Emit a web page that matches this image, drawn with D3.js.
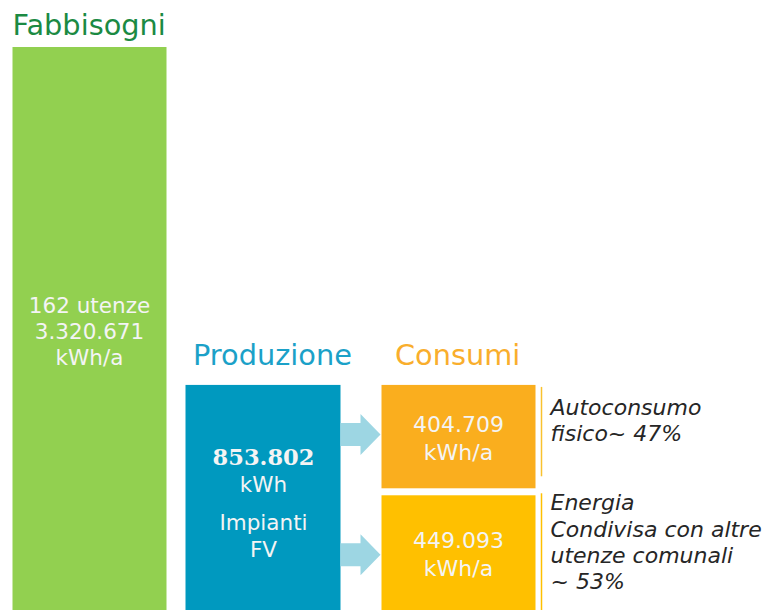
<!DOCTYPE html>
<html>
<head>
<meta charset="utf-8">
<script src="https://cdn.jsdelivr.net/npm/d3@7"></script>
<style>
  body { margin: 0; background: #fff; }
  svg { display: block; }
</style>
</head>
<body>
<div id="root"></div>
<script>
// chart values
var columns = ["Fabbisogni", "Produzione", "Consumi"];
var fabbisogni = 3320671;
var produzione = 853802;
var consumiValues = [404709, 449093];
var fabbisogniLines = ["162 utenze", "3.320.671", "kWh/a"];
var produzioneLines = ["853.802", "kWh", "Impianti", "FV"];
var consumiLabels = ["404.709", "449.093"];
var consumiNotes = [
  ["Autoconsumo", "fisico~ 47%"],
  ["Energia", "Condivisa con altre", "utenze comunali", "~ 53%"]
];

function plotChart() {
    var width = 765;
    var height = 610;
    var base = 610;
    var barW = 154;
    var gap = 7;

    var svg = d3.select("#root")
        .append("svg")
        .attr("width", width)
        .attr("height", height);

    // column positions (left edges)
    var x = d3.scaleOrdinal().domain(columns).range([12.5, 185.5, 381.5]);
    var titleColor = d3.scaleOrdinal().domain(columns).range(["#1b8a43", "#1ba1c8", "#f9ae2c"]);
    var titleOffset = d3.scaleOrdinal().domain(columns).range([0, 7.5, 13.5]);

    // bar height: infographic style, power scale
    var y = d3.scalePow().exponent(0.675).domain([0, fabbisogni]).range([base, 47]);

    // column titles
    svg.selectAll(".title")
        .data(columns)
        .enter().append("text")
        .attr("class", "title")
        .attr("x", function (d) { return x(d) + titleOffset(d); })
        .attr("y", function (d) { return d === "Fabbisogni" ? 35 : 365; })
        .attr("font-family", "DejaVu Sans, Verdana, sans-serif")
        .attr("font-size", "28.8px")
        .attr("fill", function (d) { return titleColor(d); })
        .text(function (d) { return d; });

    // Fabbisogni bar
    svg.append("rect")
        .attr("x", x("Fabbisogni"))
        .attr("y", y(fabbisogni))
        .attr("width", barW)
        .attr("height", base - y(fabbisogni))
        .attr("fill", "#92d050");

    svg.selectAll(".fabLabel")
        .data(fabbisogniLines)
        .enter().append("text")
        .attr("class", "fabLabel")
        .attr("x", x("Fabbisogni") + barW / 2)
        .attr("y", function (d, i) { return 313 + i * 26; })
        .attr("text-anchor", "middle")
        .attr("font-family", "DejaVu Sans, Verdana, sans-serif")
        .attr("font-size", "21.5px")
        .attr("fill", "#f4f4f4")
        .text(function (d) { return d; });

    // Produzione bar
    var prodTop = y(produzione);
    svg.append("rect")
        .attr("x", x("Produzione"))
        .attr("y", prodTop)
        .attr("width", barW + 1)
        .attr("height", base - prodTop)
        .attr("fill", "#0099bf");

    var prodY = [465, 492, 530, 557];
    svg.selectAll(".prodLabel")
        .data(produzioneLines)
        .enter().append("text")
        .attr("class", "prodLabel")
        .attr("x", x("Produzione") + barW / 2 + 1)
        .attr("y", function (d, i) { return prodY[i]; })
        .attr("text-anchor", "middle")
        .attr("font-family", function (d, i) { return i === 0 ? "DejaVu Serif, serif" : "DejaVu Sans, Verdana, sans-serif"; })
        .attr("font-weight", function (d, i) { return i === 0 ? "bold" : "normal"; })
        .attr("font-size", function (d, i) { return i === 0 ? "22.5px" : "21.5px"; })
        .attr("fill", "#f4f4f4")
        .text(function (d) { return d; });

    // Consumi: split the production height
    var ySub = d3.scaleLinear()
        .domain([0, produzione])
        .range([0, base - prodTop - gap]);

    var stack = [];
    var cur = prodTop;
    consumiValues.forEach(function (v, i) {
        var h = ySub(v);
        stack.push({ value: v, label: consumiLabels[i], note: consumiNotes[i], top: cur, bottom: cur + h, i: i });
        cur = cur + h + gap;
    });

    var boxColor = ["#faae1e", "#ffc000"];
    var lineColor = ["#f9c22e", "#ffc000"];

    var boxes = svg.selectAll(".cons")
        .data(stack)
        .enter().append("g")
        .attr("class", "cons");

    boxes.append("rect")
        .attr("x", x("Consumi"))
        .attr("y", function (d) { return d.top; })
        .attr("width", barW)
        .attr("height", function (d) { return d.bottom - d.top; })
        .attr("fill", function (d) { return boxColor[d.i]; });

    boxes.append("text")
        .attr("x", x("Consumi") + barW / 2)
        .attr("y", function (d) { return (d.top + d.bottom) / 2 - 5; })
        .attr("text-anchor", "middle")
        .attr("font-family", "DejaVu Sans, Verdana, sans-serif")
        .attr("font-size", "22px")
        .attr("fill", "#f4f4f4")
        .text(function (d) { return d.label; });

    boxes.append("text")
        .attr("x", x("Consumi") + barW / 2)
        .attr("y", function (d) { return (d.top + d.bottom) / 2 + 23; })
        .attr("text-anchor", "middle")
        .attr("font-family", "DejaVu Sans, Verdana, sans-serif")
        .attr("font-size", "22px")
        .attr("fill", "#f4f4f4")
        .text("kWh/a");

    // side bracket lines
    boxes.append("line")
        .attr("x1", x("Consumi") + barW + 6)
        .attr("x2", x("Consumi") + barW + 6)
        .attr("y1", function (d) { return d.i === 0 ? d.top + 2 : d.top - 2; })
        .attr("y2", function (d) { return d.i === 0 ? d.bottom - 12 : d.bottom; })
        .attr("stroke", function (d) { return lineColor[d.i]; })
        .attr("stroke-width", 1.5);

    // notes
    boxes.each(function (d) {
        var firstY = d.i === 0 ? d.top + 30 : d.top + 15;
        d3.select(this).selectAll(".note")
            .data(d.note)
            .enter().append("text")
            .attr("class", "note")
            .attr("x", x("Consumi") + barW + 15)
            .attr("y", function (t, j) { return firstY + j * 26.3; })
            .attr("font-family", "DejaVu Sans, Verdana, sans-serif")
            .attr("font-style", "italic")
            .attr("font-size", "22px")
            .attr("fill", "#262626")
            .text(function (t) { return t; });
    });

    // arrows from Produzione to each Consumi box
    var ax0 = x("Produzione") + barW + 1;
    var ax1 = x("Consumi") - 1;
    boxes.append("path")
        .attr("d", function (d) {
            var cy = (d.top + d.bottom) / 2 - (d.i === 0 ? 2 : -2);
            var hx = ax1 - 20;
            return "M" + ax0 + "," + (cy - 11.5) +
                "L" + hx + "," + (cy - 11.5) +
                "L" + hx + "," + (cy - 20.5) +
                "L" + ax1 + "," + cy +
                "L" + hx + "," + (cy + 20.5) +
                "L" + hx + "," + (cy + 11.5) +
                "L" + ax0 + "," + (cy + 11.5) + "Z";
        })
        .attr("fill", "#9dd6e3");
}

plotChart();
</script>
</body>
</html>
